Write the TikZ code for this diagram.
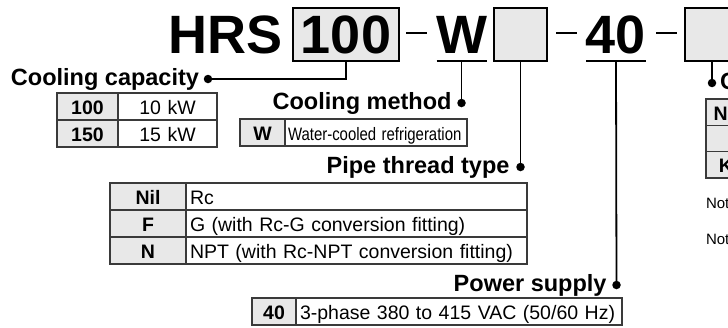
\documentclass[tikz,border=0pt]{standalone}
\usepackage{fontspec}
\setmainfont{Liberation Sans}
\usepackage{graphicx}
\usetikzlibrary{positioning}
\definecolor{cellgray}{HTML}{E8E8E8}
\definecolor{rule}{HTML}{3A3A3A}

\begin{document}
\begin{tikzpicture}[x=1pt, y=-1pt,
    every node/.style={inner sep=0pt, outer sep=0pt},
    title/.style={font=\fontsize{54}{54}\selectfont\bfseries, anchor=base},
    codebox/.style={draw, line width=1.5pt, fill=cellgray, minimum width=#1,
      minimum height=53pt, font=\fontsize{54}{54}\selectfont\bfseries},
    lbl/.style={font=\fontsize{23.5}{24}\selectfont\bfseries},
    dot/.style={circle, fill=black, minimum size=8.5pt},
    code/.style={draw=rule, line width=1.3pt, fill=cellgray, minimum width=#1,
      minimum height=27pt, text height=16pt, text depth=0pt,
      font=\fontsize{19.5}{20}\selectfont\bfseries},
    desc/.style={draw=rule, line width=1.3pt, fill=white, text width=#1,
      inner xsep=4pt, minimum height=27pt, text height=16pt, text depth=0pt,
      align=left, font=\fontsize{19.5}{20}\selectfont},
    note/.style={font=\fontsize{15}{15}\selectfont, anchor=base west},
    link/.style={line width=1.8pt},
    bar/.style={line width=2.6pt}]

  \useasboundingbox (0,0) rectangle (728,327);
  \clip (0,0) rectangle (728,327);

  % model code
  \node[title] (hrs) at (225.5,53) {HRS};
  \node[codebox=106pt] (cap) at (346,34.5) {100};
  \node[title] (meth) at (461.5,53) {W};
  \node[codebox=53pt] (pipe) at (520.5,34.5) {};
  \node[title] (volt) at (616,53) {40};
  \node[codebox=54pt] (opt) at (712,34.5) {};
  \draw[bar] (406,33) -- (427,33);
  \draw[bar] (556,33) -- (577,33);
  \draw[bar] (656,33) -- (677,33);
  \draw[link] ([xshift=-25pt,yshift=-8pt]meth.base) -- ([xshift=25pt,yshift=-8pt]meth.base);
  \draw[link] ([xshift=-30pt,yshift=-8pt]volt.base) -- ([xshift=30pt,yshift=-8pt]volt.base);

  % cooling capacity
  \node[dot] (capdot) at (208,79) {};
  \node[lbl, anchor=base east] (caplbl) at ([xshift=-9pt,yshift=-6pt]capdot.center) {Cooling capacity};
  \draw[link] (cap.south) |- (capdot);
  \node[code=61pt, anchor=north west] (c100) at (57,93) {100};
  \node[desc=91pt, align=center, right=0pt of c100] (c100d) {10 kW};
  \node[code=61pt, below=0pt of c100] (c150) {150};
  \node[desc=91pt, align=center, right=0pt of c150] (c150d) {15 kW};

  % cooling method
  \node[dot] (methdot) at (461.5,103) {};
  \node[lbl, anchor=base east] (methlbl) at ([xshift=-10pt,yshift=-6pt]methdot.center) {Cooling method};
  \draw[link] ([yshift=-8pt]meth.base) -- (methdot);
  \node[code=45pt, anchor=north west] (mW) at (240,119) {W};
  \node[desc=176pt, inner xsep=3pt, right=0pt of mW] (mWd)
    {\fontsize{18}{18}\selectfont\scalebox{0.83}[1]{Water-cooled refrigeration}};

  % pipe thread type
  \node[dot] (pipedot) at (520.5,167) {};
  \node[lbl, anchor=base east] (pipelbl) at ([xshift=-11pt,yshift=-6pt]pipedot.center) {Pipe thread type};
  \draw[link] (pipe.south) -- (pipedot);
  \node[code=76pt, anchor=north west] (pNil) at (110,183) {Nil};
  \node[desc=333pt, right=0pt of pNil] (pNild) {Rc};
  \node[code=76pt, below=0pt of pNil] (pF) {F};
  \node[desc=333pt, right=0pt of pF] (pFd) {G (with Rc-G conversion fitting)};
  \node[code=76pt, below=0pt of pF] (pN) {N};
  \node[desc=333pt, right=0pt of pN] (pNd) {NPT (with Rc-NPT conversion fitting)};

  % power supply
  \node[dot] (voltdot) at (616.5,285) {};
  \node[lbl, anchor=base east] (voltlbl) at ([xshift=-10pt,yshift=-6pt]voltdot.center) {Power supply};
  \draw[link] ([yshift=-8pt]volt.base) -- (voltdot);
  \node[code=44pt, anchor=north west] (v40) at (252,298) {40};
  \node[desc=318pt, right=0pt of v40] (v40d) {3-phase 380 to 415 VAC (50/60 Hz)};

  % option (cut off at the right edge)
  \node[dot] (optdot) at (712,83) {};
  \node[lbl, anchor=base west] (optlbl) at ([xshift=8pt,yshift=-6pt]optdot.center) {C};
  \draw[link] (opt.south) -- (optdot);
  \node[code=40pt, minimum height=26.3pt, anchor=north west] (oNil) at (706,99) {Nil};
  \node[code=40pt, minimum height=26.3pt, below=0pt of oNil] (oMid) {};
  \node[code=40pt, minimum height=26.3pt, below=0pt of oMid] (oK) {K};
  \node[note] (note1) at (706,208) {Note};
  \node[note] (note2) at (706,244) {Note};
\end{tikzpicture}
\end{document}
